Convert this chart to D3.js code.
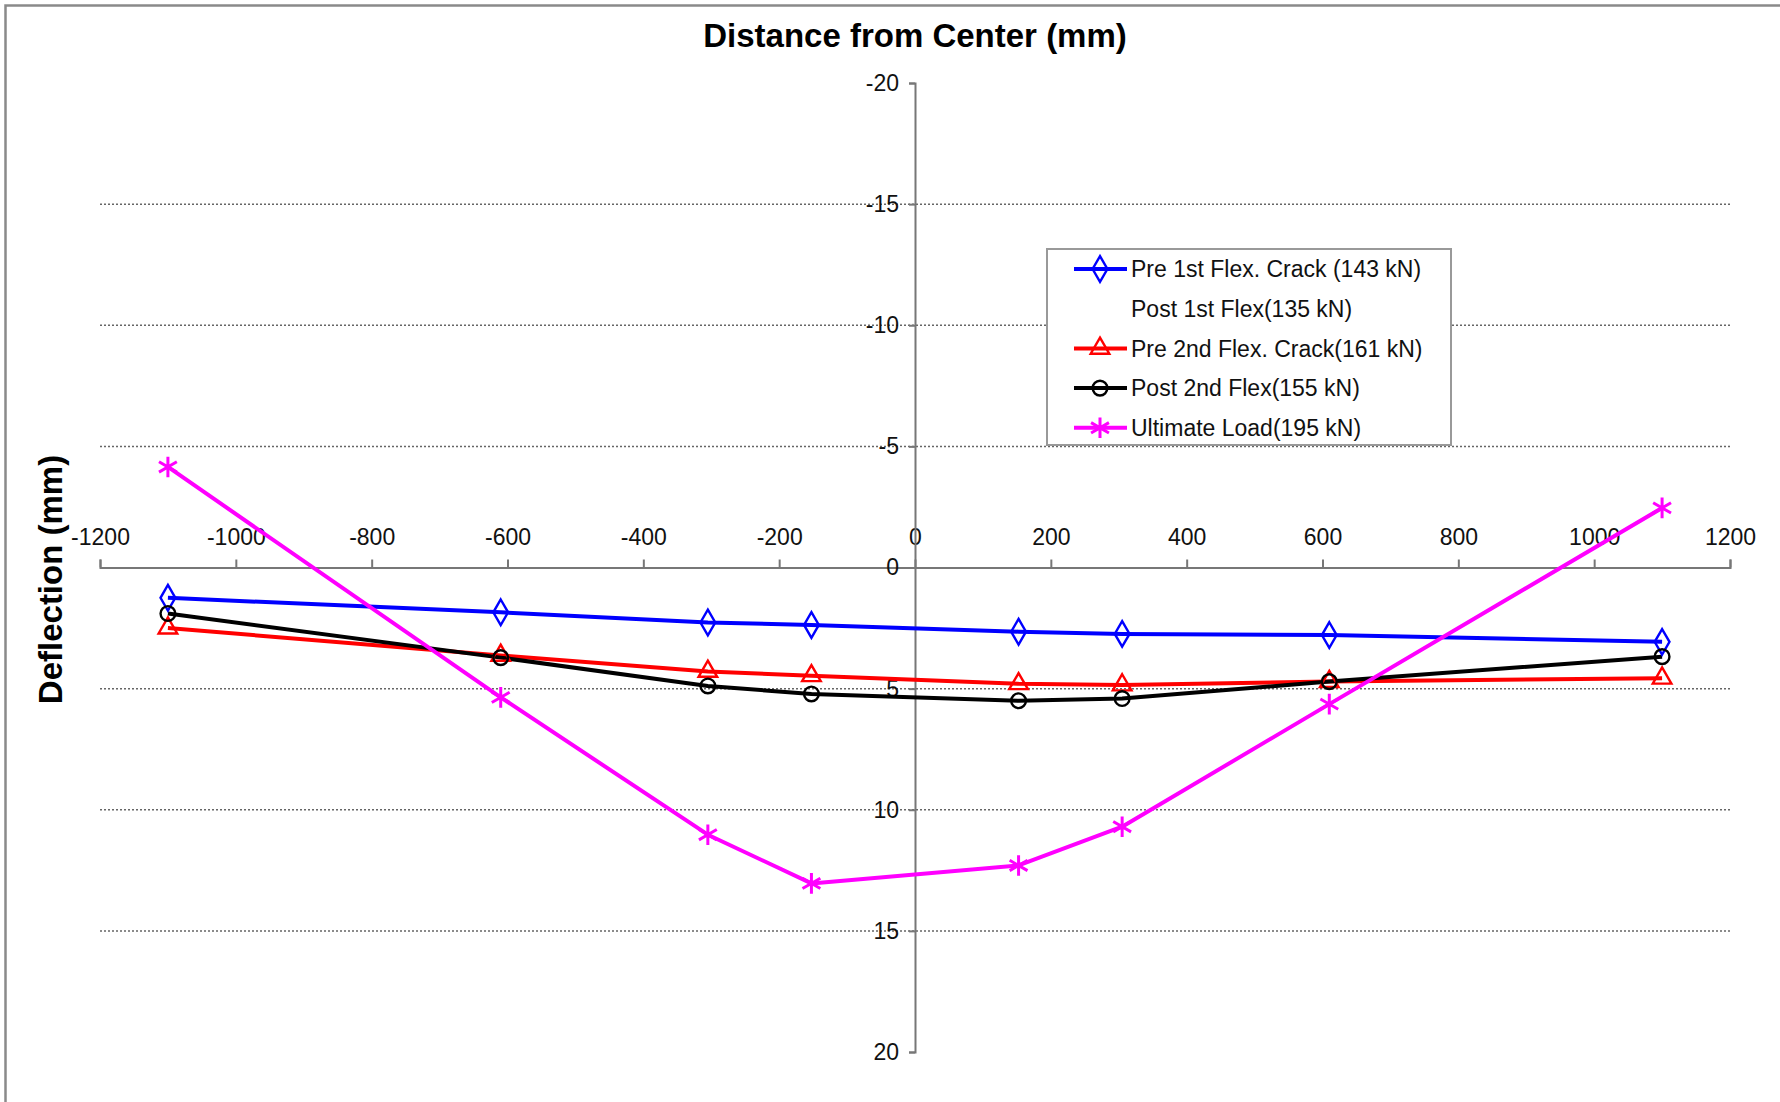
<!DOCTYPE html>
<html>
<head>
<meta charset="utf-8">
<script src="https://cdn.jsdelivr.net/npm/d3@7"></script>
<style>
  body { margin: 0; background: #fff; }
  text { font-family: "Liberation Sans", Arial, sans-serif; }
  .tick text { font-size: 23px; fill: #111; }
  .grid line { stroke: #666; stroke-width: 1.5; stroke-dasharray: 2,2; }
  .axis path, .axis line { stroke: #777; stroke-width: 2; }
  .title { font-weight: bold; font-size: 33px; fill: #000; }
  .legend-text { font-size: 23px; fill: #111; }
</style>
</head>
<body>
<div id="chart"></div>
<script>
//DATA
const distance = [-1100, -610, -305, -152.5, 152.5, 305, 610, 1100]
const pre1stFlex  = [1.25, 1.85, 2.27, 2.37, 2.65, 2.74, 2.79, 3.07]
const pre2ndFlex  = [2.5, 3.63, 4.29, 4.47, 4.8, 4.85, 4.71, 4.57]
const post2ndFlex = [1.9, 3.72, 4.89, 5.22, 5.5, 5.41, 4.71, 3.68]
const ultimate    = [-4.15, 5.36, 11.03, 13.04, 12.3, 10.7, 5.64, -2.46]
const xTicks = [-1200, -1000, -800, -600, -400, -200, 0, 200, 400, 600, 800, 1000, 1200]
const yTicks = [-20, -15, -10, -5, 0, 5, 10, 15, 20]
const gridTicks = [-15, -10, -5, 5, 10, 15]
const legendLabels = ["Pre 1st Flex. Crack (143 kN)", "Post 1st Flex(135 kN)",
                      "Pre 2nd Flex. Crack(161 kN)", "Post 2nd Flex(155 kN)", "Ultimate Load(195 kN)"]

// series table built from the arrays above
const SERIES = [
  {name: legendLabels[0], values: pre1stFlex,  color: "#0000ff", symbol: d3.symbolDiamond,  size: 190},
  {name: legendLabels[1], values: null,        color: "none",    symbol: null,              size: 0},
  {name: legendLabels[2], values: pre2ndFlex,  color: "#ff0000", symbol: d3.symbolTriangle, size: 150},
  {name: legendLabels[3], values: post2ndFlex, color: "#000000", symbol: d3.symbolCircle,   size: 170},
  {name: legendLabels[4], values: ultimate,    color: "#ff00ff", symbol: d3.symbolAsterisk, size: 300}
]

//CANVAS
const WIDTH = 1780, HEIGHT = 1102
const PLOT = {LEFT: 100, RIGHT: 1730, TOP: 83, BOTTOM: 1052}

const svg = d3.select("#chart").append("svg")
  .attr("width", WIDTH)
  .attr("height", HEIGHT)

// frame (only top and left edges visible)
svg.append("path")
  .attr("d", `M5.5,${HEIGHT} L5.5,5.5 L${WIDTH},5.5`)
  .attr("fill", "none").attr("stroke", "#8a8a8a").attr("stroke-width", 2.5)

//SCALES
const xScale = d3.scaleLinear().domain([-1200, 1200]).range([PLOT.LEFT, PLOT.RIGHT])
const yScale = d3.scaleLinear().domain([-20, 20]).range([PLOT.TOP, PLOT.BOTTOM])
const fmt = d => String(d)

// GRID
svg.append("g").attr("class", "grid")
  .selectAll("line").data(gridTicks).join("line")
  .attr("x1", PLOT.LEFT).attr("x2", PLOT.RIGHT)
  .attr("y1", d => yScale(d)).attr("y2", d => yScale(d))

//AXES
const gAxisX = svg.append("g").attr("class", "axis")
  .attr("transform", `translate(0, ${yScale(0)})`)
  .call(d3.axisTop(xScale).tickValues(xTicks).tickFormat(fmt).tickSize(8).tickSizeOuter(8).tickPadding(26))
gAxisX.selectAll(".tick text").attr("dy", "0.5em")

const gAxisY = svg.append("g").attr("class", "axis")
  .attr("transform", `translate(${xScale(0)}, 0)`)
  .call(d3.axisLeft(yScale).tickValues(yTicks).tickFormat(fmt).tickSize(6).tickSizeOuter(6).tickPadding(10))

//LABELS
svg.append("text").attr("class", "title")
  .attr("x", xScale(0)).attr("y", 47)
  .attr("text-anchor", "middle")
  .text("Distance from Center (mm)")

svg.append("text").attr("class", "title")
  .attr("transform", `translate(62, ${yScale(0) + 12}) rotate(-90)`)
  .attr("text-anchor", "middle")
  .text("Deflection (mm)")

//LINES
const line = d3.line()
  .x((d, i) => xScale(distance[i]))
  .y(d => yScale(d))

const plotted = SERIES.filter(s => s.values)

svg.append("g").selectAll("path").data(plotted).join("path")
  .attr("d", d => line(d.values))
  .attr("fill", "none")
  .attr("stroke", d => d.color)
  .attr("stroke-width", 4)
  .attr("stroke-linejoin", "round")

function drawMarker(g, s, cx, cy) {
  g.append("path")
    .attr("d", d3.symbol().type(s.symbol).size(s.size)())
    .attr("transform", `translate(${cx}, ${cy})`)
    .attr("fill", "none")
    .attr("stroke", s.color)
    .attr("stroke-width", s.symbol === d3.symbolAsterisk ? 3 : 2.4)
}

const gMarkers = svg.append("g")
plotted.forEach(s => {
  s.values.forEach((v, i) => drawMarker(gMarkers, s, xScale(distance[i]), yScale(v)))
})

//LEGEND
const LEGEND = {X: 1047, Y: 249, W: 404, H: 196, ROW0: 269, ROWSTEP: 39.7}
const gLegend = svg.append("g")
gLegend.append("rect")
  .attr("x", LEGEND.X).attr("y", LEGEND.Y)
  .attr("width", LEGEND.W).attr("height", LEGEND.H)
  .attr("fill", "#fff").attr("stroke", "#999").attr("stroke-width", 2)

SERIES.forEach((s, i) => {
  const y = LEGEND.ROW0 + i * LEGEND.ROWSTEP
  if (s.values) {
    gLegend.append("line")
      .attr("x1", 1074).attr("x2", 1127).attr("y1", y).attr("y2", y)
      .attr("stroke", s.color).attr("stroke-width", 4)
    drawMarker(gLegend, s, 1100, y)
  }
  gLegend.append("text").attr("class", "legend-text")
    .attr("x", 1131).attr("y", y).attr("dy", "0.36em")
    .text(s.name)
})
</script>
</body>
</html>
